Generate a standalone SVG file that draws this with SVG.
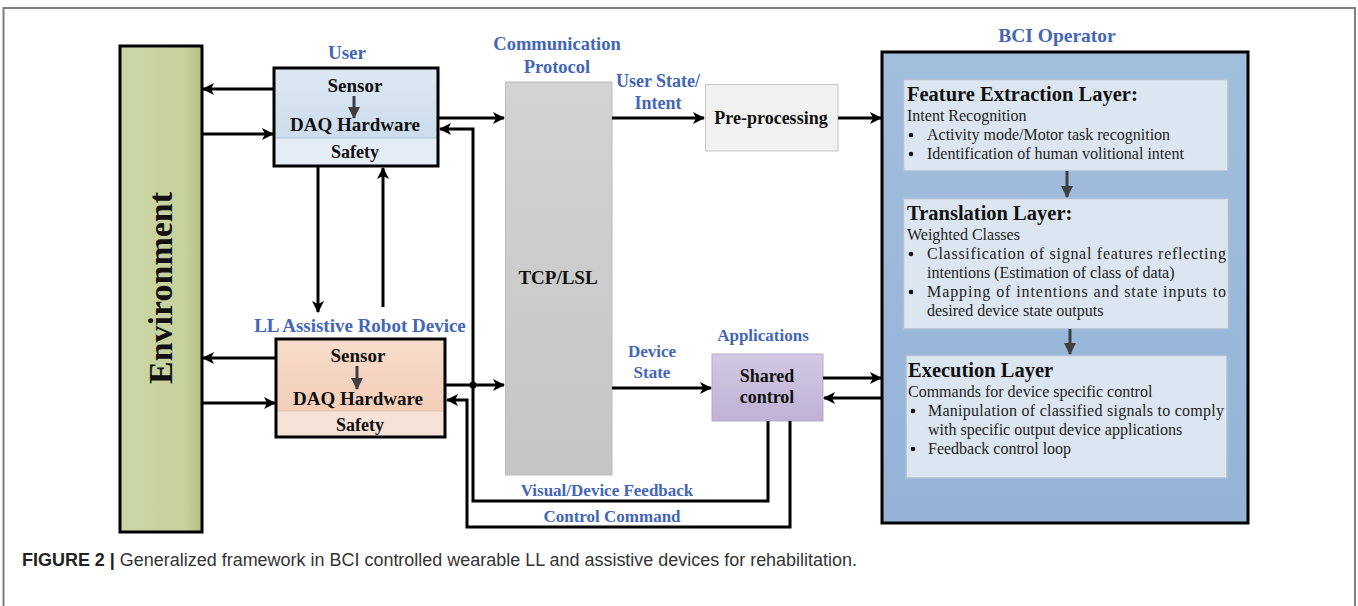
<svg xmlns="http://www.w3.org/2000/svg" width="1358" height="606" viewBox="0 0 1358 606">
<style>
.lbl{font-family:"Liberation Serif","Times New Roman",serif;font-weight:bold;fill:#4466b8;text-anchor:middle}
.bt{font-family:"Liberation Serif","Times New Roman",serif;font-weight:bold;fill:#111;text-anchor:middle}
.hd{font-family:"Liberation Serif","Times New Roman",serif;font-weight:bold;fill:#111;font-size:20.5px}
.tx{font-family:"Liberation Serif","Times New Roman",serif;fill:#222;font-size:16px}
.bu{fill:#111}
.cn{fill:none;stroke:#000;stroke-width:3}
.ia{fill:none;stroke:#404040;stroke-width:3}
.inner{fill:#dce6f1;stroke:#aebfd6;stroke-width:1.5}
</style>
<defs>
<marker id="ah" viewBox="0 0 12 12" refX="11" refY="6" markerWidth="13" markerHeight="12" markerUnits="userSpaceOnUse" orient="auto">
<path d="M0,0 L12,6 L0,12 L3,6 Z" fill="#000"/>
</marker>
<marker id="ahg" viewBox="0 0 12 12" refX="11" refY="6" markerWidth="12" markerHeight="14" markerUnits="userSpaceOnUse" orient="auto">
<path d="M0,0 L12,6 L0,12 Z" fill="#404040"/>
</marker>
<linearGradient id="gEnv" x1="0" y1="0" x2="1" y2="0">
<stop offset="0" stop-color="#cbd6a6"/><stop offset="0.8" stop-color="#c6d19c"/><stop offset="1" stop-color="#b3be86"/>
</linearGradient>
<linearGradient id="gUser" x1="0" y1="0" x2="0" y2="1">
<stop offset="0" stop-color="#dde8f3"/><stop offset="1" stop-color="#c5d8ea"/>
</linearGradient>
<linearGradient id="gLL" x1="0" y1="0" x2="0" y2="1">
<stop offset="0" stop-color="#f7dccb"/><stop offset="1" stop-color="#f1c9b0"/>
</linearGradient>
<linearGradient id="gComm" x1="0" y1="0" x2="0" y2="1">
<stop offset="0" stop-color="#d3d3d3"/><stop offset="1" stop-color="#c5c5c5"/>
</linearGradient>
<linearGradient id="gSh" x1="0" y1="0" x2="0" y2="1">
<stop offset="0" stop-color="#d2c8e2"/><stop offset="1" stop-color="#bfb2d6"/>
</linearGradient>
<linearGradient id="gBCI" x1="0" y1="0" x2="0" y2="1">
<stop offset="0" stop-color="#a2bedd"/><stop offset="1" stop-color="#94b3d6"/>
</linearGradient>
</defs>

<rect width="1358" height="606" fill="#fff"/>
<g id="frame">
<path d="M3.5,606 V8 H1355 V606" fill="none" stroke="#808080" stroke-width="2"/>
</g>

<g id="environment">
<rect x="120" y="46" width="82" height="486" fill="url(#gEnv)" stroke="#000" stroke-width="3"/>
<text class="bt" font-size="34" transform="translate(172,288) rotate(-90)" x="0" y="0">Environment</text>
</g>

<g id="user">
<text class="lbl" font-size="19" x="347" y="59">User</text>
<rect x="274" y="68" width="164" height="98" fill="url(#gUser)"/>
<rect x="274" y="138" width="164" height="28" fill="#e4edf6"/>
<line x1="274" y1="138" x2="438" y2="138" stroke="#b6c8dc" stroke-width="1"/>
<rect x="274" y="68" width="164" height="98" fill="none" stroke="#000" stroke-width="3"/>
<text class="bt" font-size="19" x="355" y="92">Sensor</text>
<line class="ia" x1="354" y1="96" x2="354" y2="118" marker-end="url(#ahg)"/>
<text class="bt" font-size="19" x="355" y="131">DAQ Hardware</text>
<text class="bt" font-size="18" x="355" y="158">Safety</text>
</g>

<g id="ll-device">
<text class="lbl" font-size="19" x="360" y="332">LL Assistive Robot Device</text>
<rect x="276" y="339" width="169" height="98" fill="url(#gLL)"/>
<rect x="276" y="411" width="169" height="26" fill="#f6e2d7"/>
<line x1="276" y1="411" x2="445" y2="411" stroke="#e0c0ae" stroke-width="1"/>
<rect x="276" y="339" width="169" height="98" fill="none" stroke="#000" stroke-width="3"/>
<text class="bt" font-size="19" x="358" y="362">Sensor</text>
<line class="ia" x1="357" y1="366" x2="357" y2="389" marker-end="url(#ahg)"/>
<text class="bt" font-size="19" x="358" y="405">DAQ Hardware</text>
<text class="bt" font-size="18" x="360" y="431">Safety</text>
</g>

<g id="comm-protocol">
<text class="lbl" font-size="18.5" x="557" y="50">Communication</text>
<text class="lbl" font-size="18.5" x="557" y="73">Protocol</text>
<rect x="505.5" y="82" width="106.5" height="393" fill="url(#gComm)" stroke="#bcbcbc" stroke-width="1"/>
<text class="bt" font-size="19" x="558" y="284">TCP/LSL</text>
</g>

<g id="preprocessing">
<rect x="705.5" y="84.5" width="132.5" height="66.5" fill="#f1f1f1" stroke="#c6c6c6" stroke-width="1"/>
<text class="bt" font-size="18" x="771" y="124">Pre-processing</text>
</g>

<g id="shared-control">
<text class="lbl" font-size="17" x="763" y="341">Applications</text>
<rect x="712" y="354" width="111" height="67" fill="url(#gSh)" stroke="#b5aacb" stroke-width="1"/>
<text class="bt" font-size="18" x="767" y="382">Shared</text>
<text class="bt" font-size="18" x="767" y="403">control</text>
</g>

<g id="bci-operator">
<text class="lbl" font-size="19.5" x="1057" y="42">BCI Operator</text>
<rect x="882" y="52" width="366" height="471" fill="url(#gBCI)" stroke="#000" stroke-width="3"/>
</g>

<g id="feature-extraction">
<rect class="inner" x="903.5" y="79.5" width="324.5" height="91.5"/>
<text class="hd" x="907" y="101">Feature Extraction Layer:</text>
<text class="tx" x="907" y="121">Intent Recognition</text>
<circle class="bu" cx="911" cy="135" r="2.3"/>
<text class="tx" x="927" y="140">Activity mode/Motor task recognition</text>
<circle class="bu" cx="911" cy="154" r="2.3"/>
<text class="tx" x="927" y="159">Identification of human volitional intent</text>
</g>

<g id="translation">
<rect class="inner" x="903.5" y="198.5" width="325" height="130.5"/>
<text class="hd" x="907" y="220">Translation Layer:</text>
<text class="tx" x="907" y="240">Weighted Classes</text>
<circle class="bu" cx="911" cy="254" r="2.3"/>
<text class="tx" x="927" y="259" textLength="299" lengthAdjust="spacing">Classification of signal features reflecting</text>
<text class="tx" x="927" y="278">intentions (Estimation of class of data)</text>
<circle class="bu" cx="911" cy="292" r="2.3"/>
<text class="tx" x="927" y="297" textLength="299" lengthAdjust="spacing">Mapping of intentions and state inputs to</text>
<text class="tx" x="927" y="316">desired device state outputs</text>
</g>

<g id="execution">
<rect class="inner" x="906" y="355.5" width="321" height="122.5"/>
<text class="hd" x="908" y="377">Execution Layer</text>
<text class="tx" x="908" y="397">Commands for device specific control</text>
<circle class="bu" cx="913" cy="411" r="2.3"/>
<text class="tx" x="928" y="416" textLength="296" lengthAdjust="spacing">Manipulation of classified signals to comply</text>
<text class="tx" x="928" y="435">with specific output device applications</text>
<circle class="bu" cx="913" cy="449" r="2.3"/>
<text class="tx" x="928" y="454">Feedback control loop</text>
</g>

<g id="connectors">
<line class="cn" x1="274" y1="89" x2="203" y2="89" marker-end="url(#ah)"/>
<line class="cn" x1="202" y1="134" x2="273" y2="134" marker-end="url(#ah)"/>
<line class="cn" x1="438" y1="118" x2="504" y2="118" marker-end="url(#ah)"/>
<path class="cn" d="M768,421 V501 H473 V129 H440" marker-end="url(#ah)"/>
<line class="cn" x1="318" y1="166" x2="318" y2="312" marker-end="url(#ah)"/>
<line class="cn" x1="383" y1="307" x2="383" y2="168" marker-end="url(#ah)"/>
<line class="cn" x1="276" y1="358" x2="203" y2="358" marker-end="url(#ah)"/>
<line class="cn" x1="202" y1="403" x2="275" y2="403" marker-end="url(#ah)"/>
<line class="cn" x1="445" y1="385" x2="504" y2="385" marker-end="url(#ah)"/>
<circle cx="473" cy="385" r="3.5" fill="#000"/>
<path class="cn" d="M790,421 V527 H467 V400 H447" marker-end="url(#ah)"/>
<line class="cn" x1="612" y1="118" x2="704" y2="118" marker-end="url(#ah)"/>
<line class="cn" x1="838" y1="118" x2="881" y2="118" marker-end="url(#ah)"/>
<line class="cn" x1="612" y1="388" x2="711" y2="388" marker-end="url(#ah)"/>
<line class="cn" x1="823" y1="378" x2="881" y2="378" marker-end="url(#ah)"/>
<line class="cn" x1="882" y1="398" x2="824" y2="398" marker-end="url(#ah)"/>
<line class="ia" x1="1067" y1="171" x2="1067" y2="197" marker-end="url(#ahg)"/>
<line class="ia" x1="1070" y1="329" x2="1070" y2="354" marker-end="url(#ahg)"/>
</g>

<g id="connector-labels">
<text class="lbl" font-size="18" x="658" y="87">User State/</text>
<text class="lbl" font-size="18" x="658" y="109">Intent</text>
<text class="lbl" font-size="17" x="652" y="357">Device</text>
<text class="lbl" font-size="17" x="652" y="378">State</text>
<text class="lbl" font-size="17" x="607" y="496">Visual/Device Feedback</text>
<text class="lbl" font-size="17" x="612" y="522">Control Command</text>
</g>

<g id="caption">
<text x="22" y="566" font-family="'Liberation Sans',Arial,sans-serif" font-size="17.5" fill="#333" textLength="835" lengthAdjust="spacingAndGlyphs"><tspan font-weight="bold" fill="#222">FIGURE 2 | </tspan>Generalized framework in BCI controlled wearable LL and assistive devices for rehabilitation.</text>
</g>
</svg>
